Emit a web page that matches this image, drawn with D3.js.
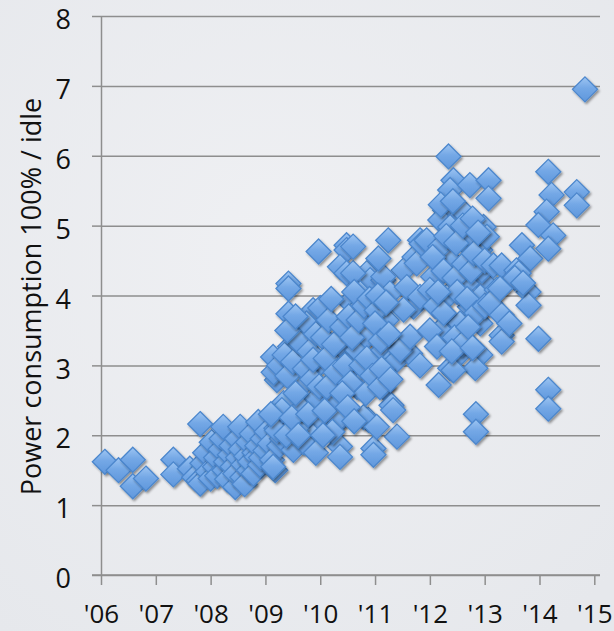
<!DOCTYPE html>
<html>
<head>
<meta charset="utf-8">
<script src="https://cdn.jsdelivr.net/npm/d3@7"></script>
<style>
  body { margin: 0; background: #ebedf0; }
  svg { display: block; }
  text { font-family: "Open Sans", sans-serif; fill: #111; }
</style>
</head>
<body>
<svg></svg>
<script>
// axis labels
const yearTicks = [2006, 2007, 2008, 2009, 2010, 2011, 2012, 2013, 2014, 2015];
const yearLabels = ["'06", "'07", "'08", "'09", "'10", "'11", "'12", "'13", "'14", "'15"];
const powerTicks = [0, 1, 2, 3, 4, 5, 6, 7, 8];
const yTitle = "Power consumption 100% / idle";

// [year, power ratio], grouped by period
const pts06_08 = [
  [2006.07,1.62],[2006.32,1.50],[2006.58,1.65],[2006.58,1.27],[2006.82,1.38],[2007.32,1.65],[2007.32,1.44],
  [2007.62,1.52],[2007.70,1.40],[2007.78,1.35],[2007.81,2.16],[2007.81,1.31],[2007.85,1.60],[2007.90,1.75],[2007.95,1.48]
];
const pts08_09 = [
  [2008.00,1.38],[2008.02,1.90],[2008.08,1.55],[2008.10,1.68],[2008.12,1.42],[2008.18,1.80],[2008.20,1.95],[2008.23,2.12],
  [2008.25,1.50],[2008.28,1.62],[2008.30,1.37],[2008.35,1.72],[2008.38,1.85],[2008.40,1.55],[2008.45,1.26],[2008.45,1.45],
  [2008.48,1.95],[2008.50,1.68],[2008.54,2.12],[2008.55,1.80],[2008.58,1.40],[2008.60,1.58],[2008.62,1.30],[2008.65,1.70],
  [2008.68,1.90],[2008.70,1.50],[2008.72,1.62],[2008.75,2.02],[2008.78,1.45],[2008.80,1.75],[2008.84,1.69],[2008.85,1.85],
  [2008.87,2.19],[2008.90,1.58],[2008.92,1.68],[2008.95,1.95]
];
const pts09_10 = [
  [2009.00,1.78],[2009.02,2.05],[2009.08,1.88],[2009.12,1.65],[2009.18,1.50],[2009.20,2.10],[2009.27,2.36],[2009.25,1.85],
  [2009.30,1.95],[2009.14,3.12],[2009.21,2.79],[2009.42,4.17],[2009.42,4.10],[2009.42,3.74],[2009.45,3.27],[2009.87,3.79],
  [2009.69,3.50],[2010.00,3.03],[2009.63,2.69],[2009.94,2.46],[2009.33,2.46],[2009.90,2.17],[2009.21,2.07],[2009.63,2.17],
  [2009.87,1.98],[2009.51,1.79],[2009.14,1.55],[2009.97,4.63],[2009.30,2.36],[2009.57,2.10],[2009.66,2.38],[2009.94,2.53],
  [2009.15,2.90],[2009.25,3.00],[2009.35,3.15],[2009.40,2.85],[2009.50,3.05],[2009.55,2.60],[2009.60,3.35],[2009.72,2.95],
  [2009.80,3.20],[2009.85,2.80],[2009.75,3.60],[2009.92,3.45],[2009.98,2.70],[2009.10,2.30],[2009.38,2.00],[2009.48,2.25],
  [2009.70,1.90],[2009.78,2.30],[2009.92,1.75],[2009.40,3.50],[2009.55,3.70],[2009.60,2.00],[2009.87,3.08]
];
const pts10_11 = [
  [2010.48,4.72],[2010.48,4.65],[2010.00,3.82],[2010.54,3.91],[2010.48,3.19],[2010.36,3.31],[2010.42,2.89],[2010.36,4.41],
  [2010.48,4.32],[2010.85,4.32],[2010.18,2.69],[2010.24,2.50],[2010.30,2.17],[2010.36,1.84],[2010.36,1.69],[2010.33,2.22],
  [2010.12,2.69],[2010.67,2.69],[2010.97,1.81],[2010.97,1.72],[2010.88,2.22],[2010.79,2.26],[2010.73,2.74],[2010.97,3.03],
  [2010.67,3.22],[2010.91,3.46],[2010.67,3.79],[2010.91,4.22],[2010.60,4.32],[2010.73,4.03],[2010.60,4.70],[2010.85,3.41],
  [2010.05,3.40],[2010.10,3.10],[2010.15,3.65],[2010.20,3.95],[2010.25,3.30],[2010.28,2.90],[2010.40,3.55],[2010.45,3.00],
  [2010.52,3.70],[2010.55,2.75],[2010.58,3.40],[2010.62,4.05],[2010.70,3.65],[2010.75,3.00],[2010.80,3.85],[2010.83,2.60],
  [2010.85,3.10],[2010.90,3.95],[2010.95,2.85],[2010.08,2.35],[2010.40,2.60],[2010.50,2.40],[2010.62,2.20],[2010.22,2.05],
  [2010.05,2.00]
];
const pts11_12 = [
  [2011.15,4.22],[2011.52,4.36],[2011.72,4.55],[2011.15,2.69],[2011.40,1.98],[2011.30,2.43],[2011.03,2.12],[2011.33,2.36],
  [2011.09,2.69],[2011.21,3.65],[2011.03,3.79],[2011.15,4.27],[2011.24,4.79],[2011.06,4.53],[2011.15,3.22],[2011.36,3.12],
  [2011.40,3.08],[2011.64,3.17],[2011.82,4.79],[2011.76,4.46],[2011.82,3.00],[2011.70,3.84],[2011.27,4.03],[2011.58,4.12],
  [2011.82,3.98],[2011.46,3.22],[2011.52,3.80],[2011.64,3.41],[2011.85,4.74],[2011.00,3.60],[2011.05,4.00],[2011.10,3.35],
  [2011.12,2.95],[2011.20,3.90],[2011.25,3.45],[2011.28,2.80]
];
const pts12_13 = [
  [2012.34,5.99],[2012.43,5.65],[2012.37,5.51],[2012.73,5.58],[2013.07,5.65],[2013.07,5.39],[2012.28,5.22],[2012.19,5.08],
  [2012.55,5.13],[2012.64,5.17],[2012.98,4.98],[2011.94,4.79],[2012.92,4.65],[2012.95,4.22],[2012.31,3.98],[2012.37,3.65],
  [2012.67,4.17],[2012.06,4.27],[2012.37,4.51],[2012.19,4.70],[2012.55,4.89],[2012.37,4.98],[2012.67,4.74],[2012.76,4.84],
  [2013.04,4.84],[2012.92,3.98],[2012.73,3.84],[2012.55,3.60],[2012.19,3.50],[2012.00,3.50],[2012.13,3.27],[2012.55,3.17],
  [2012.92,3.60],[2012.67,3.34],[2012.92,3.15],[2012.37,2.96],[2012.16,2.72],[2012.83,2.96],[2012.43,2.93],[2012.84,2.30],
  [2012.84,2.05],[2012.95,4.36],[2012.00,4.08],[2012.05,4.55],[2012.10,3.85],[2012.25,4.35],[2012.30,4.85],[2012.45,4.25],
  [2012.48,4.75],[2012.50,4.05],[2012.60,5.00],[2012.62,4.45],[2012.68,3.95],[2012.75,4.35],[2012.78,5.10],[2012.80,4.60],
  [2012.85,3.75],[2012.88,4.90],[2012.45,3.40],[2012.25,3.75],[2012.15,4.05],[2012.58,3.30],[2012.40,3.20],[2012.70,3.55],
  [2012.78,3.25],[2013.00,3.85],[2013.00,4.50],[2012.20,5.30],[2012.42,5.35]
];
const pts13_14 = [
  [2013.16,4.43],[2013.22,4.08],[2013.10,3.89],[2013.31,4.43],[2013.58,4.36],[2013.68,4.72],[2013.83,4.53],[2013.80,4.05],
  [2013.80,3.86],[2013.31,3.72],[2013.31,3.43],[2013.31,3.34],[2013.98,3.38],[2013.62,4.32],[2013.55,4.25],[2013.70,4.18],
  [2013.28,4.10],[2013.45,3.60]
];
const pts14_15 = [
  [2014.16,5.77],[2014.22,5.44],[2014.68,5.48],[2014.68,5.29],[2014.13,5.20],[2013.98,5.01],[2014.25,4.86],[2014.16,4.67],
  [2014.16,2.65],[2014.16,2.38],[2014.83,6.95]
];

const points = [].concat(pts06_08, pts08_09, pts09_10, pts10_11, pts11_12, pts12_13, pts13_14, pts14_15);

const width = 614;
const height = 631;
const plotLeft = 101, plotRight = 600, plotTop = 16, plotBottom = 575;

const svg = d3.select("svg")
    .attr("width", width)
    .attr("height", height);

const x = d3.scaleLinear().domain([2006, 2015]).range([plotLeft, 594.3]);
const y = d3.scaleLinear().domain([0, 8]).range([plotBottom, plotTop]);

const defs = svg.append("defs");
const grad = defs.append("linearGradient")
    .attr("id", "fillGrad")
    .attr("x1", 0).attr("y1", 0).attr("x2", 0).attr("y2", 1);
grad.append("stop").attr("offset", "0%").attr("stop-color", "#9ec5f2");
grad.append("stop").attr("offset", "45%").attr("stop-color", "#74a8e6");
grad.append("stop").attr("offset", "100%").attr("stop-color", "#5f97dc");

const shadow = defs.append("filter")
    .attr("id", "shadow")
    .attr("x", "-50%").attr("y", "-50%").attr("width", "200%").attr("height", "200%");
shadow.append("feDropShadow")
    .attr("dx", 1.5).attr("dy", 1.8)
    .attr("stdDeviation", 1.3)
    .attr("flood-color", "#000")
    .attr("flood-opacity", 0.4);

// background
const bg = defs.append("radialGradient").attr("id", "bgGrad")
    .attr("cx", "45%").attr("cy", "40%").attr("r", "75%");
bg.append("stop").attr("offset", "0%").attr("stop-color", "#eff0f3");
bg.append("stop").attr("offset", "100%").attr("stop-color", "#e6e8ec");
svg.append("rect").attr("width", width).attr("height", height).attr("fill", "url(#bgGrad)");

// gridlines
svg.append("g")
    .attr("transform", `translate(${plotLeft},0)`)
    .call(d3.axisLeft(y).tickValues(powerTicks).tickSize(-(plotRight - plotLeft)).tickFormat(""))
    .call(g => g.select(".domain").remove())
    .call(g => g.selectAll("line").attr("stroke", "#8e8e8e").attr("stroke-width", 1.5));

// y axis
svg.append("g")
    .attr("transform", `translate(${plotLeft},0)`)
    .call(d3.axisLeft(y).tickValues(powerTicks).tickSize(9).tickPadding(21).tickSizeOuter(0))
    .call(g => g.select(".domain").attr("stroke", "#8e8e8e").attr("stroke-width", 1.5))
    .call(g => g.selectAll("line").attr("stroke", "#8e8e8e").attr("stroke-width", 1.5))
    .call(g => g.selectAll("text")
        .attr("font-size", 27)
        .attr("dy", "0.47em")
        .attr("fill", "#111")
        .style("font-family", "'Open Sans', sans-serif"));

// x axis
svg.append("g")
    .attr("transform", `translate(0,${plotBottom})`)
    .call(d3.axisBottom(x).tickValues(yearTicks).tickSize(10).tickPadding(20).tickSizeOuter(0)
        .tickFormat((d, i) => yearLabels[i]))
    .call(g => g.select(".domain").attr("d", `M${plotLeft - 9},0H${plotRight}`)
        .attr("stroke", "#8e8e8e").attr("stroke-width", 1.5))
    .call(g => g.selectAll("line").attr("stroke", "#8e8e8e").attr("stroke-width", 1.5))
    .call(g => g.selectAll("text")
        .attr("font-size", 26)
        .attr("fill", "#111")
        .style("font-family", "'Open Sans', sans-serif"));

// axis title
svg.append("text")
    .attr("transform", `translate(30,${(y(0) + y(8)) / 2 + 1}) rotate(-90)`)
    .attr("text-anchor", "middle")
    .attr("dominant-baseline", "central")
    .attr("font-size", 27)
    .text(yTitle);

// diamond markers
const diamond = {
    draw(ctx, size) {
        const r = Math.sqrt(size / 2);
        ctx.moveTo(0, -r);
        ctx.lineTo(r, 0);
        ctx.lineTo(0, r);
        ctx.lineTo(-r, 0);
        ctx.closePath();
    }
};
const sym = d3.symbol().type(diamond).size(2 * 12.5 * 12.5);

svg.append("g")
    .selectAll("path")
    .data(points)
    .join("path")
    .attr("transform", d => `translate(${x(d[0])},${y(d[1])})`)
    .attr("d", sym)
    .attr("fill", "url(#fillGrad)")
    .attr("stroke", "#4c87cd")
    .attr("stroke-width", 1.3)
    .attr("filter", "url(#shadow)");
</script>
</body>
</html>
